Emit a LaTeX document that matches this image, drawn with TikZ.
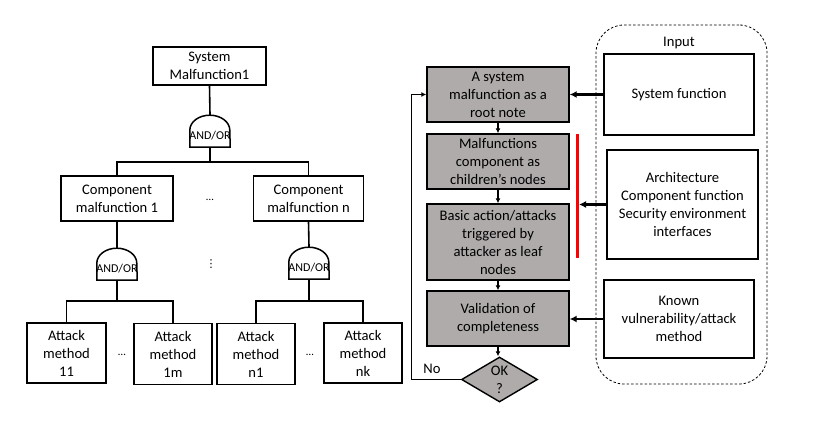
\documentclass[tikz,border=0pt]{standalone}
\usepackage{fontspec}
\setmainfont{Carlito}
\newfontfamily\dejavu{DejaVu Sans}
\usetikzlibrary{shapes.geometric,arrows.meta,calc}
\definecolor{boxgray}{RGB}{175,171,171}
\begin{document}
\begin{tikzpicture}[x=1pt,y=-1pt,
  every node/.style={font=\fontsize{14.6}{18}\selectfont},
  box/.style={draw, line width=1.4pt, align=center, inner sep=0pt},
  gbox/.style={box, fill=boxgray},
  gate/.style={minimum width=40pt, minimum height=32pt, inner sep=0pt, font=\fontsize{12}{14}\selectfont},
  conn/.style={line width=1.6pt},
  arr/.style={line width=1.3pt, -{Latex[length=5pt,width=5pt]}},
  bigarr/.style={line width=2.2pt, -{Latex[length=7pt,width=7pt]}},
  dots/.style={font=\fontsize{11}{12}\selectfont, inner sep=0pt},
  ]
\useasboundingbox (0,0) rectangle (826,443);

% ---------- left tree ----------
\node[box, minimum width=113pt, minimum height=38pt] (sys) at (209.5,66) {System\\Malfunction1};
\node[gate] (g1) at (210,131) {};
\node[box, minimum width=112pt, minimum height=45pt] (c1) at (117,198.5) {Component\\malfunction 1};
\node[box, minimum width=110pt, minimum height=45pt] (cn) at (308.5,198.5) {Component\\malfunction n};
\node[dots] (e1) at (210,200) {…};
\node[gate] (g2) at (117,264) {};
\node[gate] (g3) at (309,263) {};
\node[dots, font=\dejavu\fontsize{11}{12}\selectfont] (e2) at (211,264) {⋮};
\node[box, minimum width=79pt, minimum height=60pt] (a11) at (66.5,353) {Attack\\method\\11};
\node[box, minimum width=78pt, minimum height=61pt] (a1m) at (173,354) {Attack\\method\\1m};
\node[box, minimum width=78pt, minimum height=61pt] (an1) at (256,354) {Attack\\method\\n1};
\node[box, minimum width=78pt, minimum height=60pt] (ank) at (363,353) {Attack\\method\\nk};
\node[dots] (e3) at (122,355) {…};
\node[dots] (e4) at (310,355) {…};

\foreach \g in {g1,g2,g3}{
  \draw[line width=1.5pt, fill=white] (\g.south west) -- ++(0,-17)
    arc[start angle=180, end angle=360, x radius=20, y radius=15]
    -- (\g.south east) -- cycle;
  \node[gate] at (\g) {\raisebox{-8.5pt}[0pt][0pt]{AND/OR}};
}

\draw[conn] (sys.south) -- (g1.north);
\draw[conn] (g1.south) -- ++(0,15) coordinate (j1);
\draw[conn] (c1.north) |- (j1) -| (cn.north);
\draw[conn] (c1.south) -- (g2.north);
\draw[conn] (cn.south) -- (g3.north);
\draw[conn] (g2.south) -- ++(0,21) coordinate (j2);
\draw[conn] (a11.north) |- (j2) -| (a1m.north);
\draw[conn] (g3.south) -- ++(0,22) coordinate (j3);
\draw[conn] (an1.north) |- (j3) -| (ank.north);

% ---------- flowchart ----------
\node[gbox, minimum width=142pt, minimum height=55pt] (b1) at (498,94.5) {A system\\malfunction as a\\root note};
\node[gbox, minimum width=142pt, minimum height=55pt] (b2) at (498,161.5) {Malfunctions\\component as\\children’s nodes};
\node[gbox, minimum width=142pt, minimum height=76pt] (b3) at (498,242) {Basic action/attacks\\triggered by\\attacker as leaf\\nodes};
\node[gbox, minimum width=142pt, minimum height=55pt] (b4) at (498,318.5) {Validation of\\completeness};
\node[draw, line width=1.4pt, fill=boxgray, diamond, minimum width=76pt, minimum height=45pt, inner sep=0pt,
  label={[align=center, inner sep=0pt]center:{OK\\?}}] (ok) at (499.5,379.5) {};
\node (no) at (432,369) {No};

\draw[arr] (b1) -- (b2);
\draw[arr] (b2) -- (b3);
\draw[arr] (b3) -- (b4);
\draw[arr] (b4.south) -- (b4.south |- ok.north);
\draw[arr] (ok.west) -| ([xshift=-15pt]b1.west) -- (b1.west);

\coordinate (rt) at (577,134);
\coordinate (rb) at (577,258);
\draw[red, line width=3pt] (rt) -- (rb);

% ---------- input ----------
\node[draw, dash pattern=on 2.5pt off 2pt, line width=0.8pt, rounded corners=28pt,
  minimum width=171pt, minimum height=359pt] (inp) at (681.5,204.5) {};
\node (inlabel) at (679,43) {Input};
\node[box, minimum width=150pt, minimum height=81pt] (sf) at (679,94.5) {System function};
\node[box, minimum width=151pt, minimum height=109pt] (arch) at (682.5,204.5) {Architecture\\Component function\\Security environment\\interfaces};
\node[box, minimum width=150pt, minimum height=78pt] (known) at (679,319) {Known\\vulnerability/attack\\method};

\draw[bigarr] (sf.west) -- (sf.west -| b1.east);
\draw[bigarr] (arch.west) -- ($(arch.west -| rt)+(2,0)$);
\draw[bigarr] (known.west) -- (known.west -| b4.east);
\end{tikzpicture}
\end{document}
